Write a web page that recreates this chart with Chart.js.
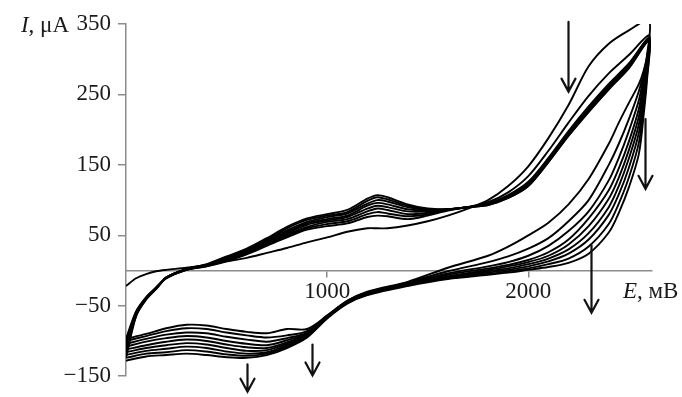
<!DOCTYPE html>
<html>

<head>
    <meta charset="utf-8">
    <title>Cyclic voltammogram</title>
    <script src="https://cdn.jsdelivr.net/npm/chart.js@4.4.1/dist/chart.umd.min.js"></script>
    <style>
        html, body { margin: 0; padding: 0; background: #fff; }
        #wrap { position: relative; width: 682px; height: 397px; }
    </style>
</head>

<body>
    <div id="wrap"><canvas id="cv"></canvas></div>

    <script>
        // potential grids, mV (forward sweep and reverse sweep)
        var upE = [0, 50, 100, 150, 200, 300, 400, 500, 600, 700, 800, 900, 1000, 1100, 1200, 1250, 1300, 1400, 1500, 1600, 1700, 1800, 1900, 2000, 2100, 2200, 2300, 2400, 2500, 2600];
        var downE = [2590, 2575, 2550, 2500, 2450, 2400, 2300, 2200, 2100, 2000, 1900, 1800, 1600, 1400, 1200, 1100, 1000, 900, 800, 700, 600, 500, 400, 300, 200, 100, 0];

        // current, uA, one forward + one reverse branch per cycle
        var cycle1Up = [-22, -11, -5, -1, 1, 4, 8, 13, 18, 25, 32, 40, 47, 55, 60, 60, 60, 64, 70, 78, 88, 100, 120, 148, 188, 235, 290, 322, 341, 355];
        var cycle1Down = [305, 285, 265, 238, 210, 180, 130, 94, 68, 50, 34, 21, 4, -16, -30, -43, -64, -83, -83, -89, -87, -83, -78, -77, -82, -90, -97];
        var cycle2Up = [-97, -58, -38, -24, -11, 1, 6, 13, 23, 35, 47, 58, 63, 67, 76, 78, 77, 73, 78, 85, 90, 97, 111, 134, 170, 210, 248, 280, 306, 334];
        var cycle2Down = [303, 283, 255, 215, 180, 150, 100, 70, 46, 31, 20, 12, -1, -17, -31, -43, -64, -86, -92, -95, -92, -88, -83, -82, -86, -93, -100];
        var cycle3Up = [-100, -59, -38, -24, -11, 1, 6, 14, 24, 36, 49, 60, 66, 70, 80, 83, 81, 77, 80, 86, 90, 95, 107, 126, 160, 198, 233, 265, 294, 331];
        var cycle3Down = [300, 278, 242, 198, 160, 128, 84, 56, 35, 21, 12, 6, -4, -18, -32, -44, -65, -88, -96, -101, -98, -94, -89, -88, -91, -97, -104];
        var cycle4Up = [-104, -60, -39, -25, -11, 1, 7, 15, 25, 38, 51, 62, 69, 73, 84, 88, 86, 80, 82, 86, 90, 95, 106, 124, 158, 196, 230, 262, 292, 330];
        var cycle4Down = [296, 270, 230, 183, 145, 114, 74, 44, 26, 15, 8, 3, -6, -19, -32, -44, -65, -89, -99, -106, -104, -100, -95, -93, -96, -101, -108];
        var cycle5Up = [-108, -61, -39, -25, -10, 2, 7, 16, 27, 40, 53, 65, 71, 76, 88, 92, 90, 84, 84, 87, 90, 94, 105, 123, 157, 195, 229, 261, 291, 329];
        var cycle5Down = [292, 262, 219, 171, 132, 102, 63, 37, 21, 12, 6, 1, -8, -19, -33, -45, -66, -90, -102, -110, -109, -105, -100, -98, -101, -106, -112];
        var cycle6Up = [-112, -62, -40, -25, -10, 2, 8, 17, 28, 41, 55, 67, 73, 78, 92, 96, 94, 87, 85, 87, 90, 94, 104, 122, 156, 194, 228, 260, 290, 328];
        var cycle6Down = [287, 255, 208, 159, 120, 90, 53, 30, 17, 9, 3, -1, -9, -20, -33, -45, -66, -92, -104, -113, -114, -110, -105, -103, -106, -110, -116];
        var cycle7Up = [-116, -63, -40, -26, -10, 2, 8, 18, 29, 43, 57, 69, 76, 81, 95, 100, 98, 90, 86, 87, 90, 94, 104, 121, 155, 193, 227, 259, 289, 327];
        var cycle7Down = [282, 246, 196, 146, 108, 79, 44, 24, 13, 6, 1, -3, -10, -21, -34, -46, -67, -93, -106, -116, -118, -115, -110, -108, -111, -114, -120];
        var cycle8Up = [-120, -64, -41, -26, -10, 2, 8, 19, 30, 44, 60, 72, 78, 83, 99, 104, 101, 92, 87, 87, 90, 93, 103, 120, 154, 192, 226, 258, 288, 326];
        var cycle8Down = [276, 236, 182, 132, 95, 66, 34, 17, 9, 3, -1, -5, -11, -21, -34, -46, -67, -94, -108, -118, -121, -119, -115, -113, -116, -118, -124];
        var cycle9Up = [-124, -65, -41, -26, -10, 2, 9, 20, 31, 46, 62, 74, 80, 86, 102, 107, 104, 94, 88, 87, 90, 93, 103, 120, 154, 191, 225, 257, 287, 326];
        var cycle9Down = [270, 225, 166, 118, 82, 54, 24, 11, 5, 1, -3, -6, -12, -22, -35, -47, -68, -95, -110, -120, -124, -123, -120, -118, -120, -122, -128];

        // axis ticks
        var xTicks = [1000, 2000];
        var yTicks = [-150, -50, 50, 150, 250, 350];

        // arrows: [E, I start, I end] (head at the end)
        var arrows = [[2195, 353, 254], [2578, 215, 116], [2310, 36, -60], [927, -105, -149], [604, -133, -172]];

        var ups = [cycle1Up, cycle2Up, cycle3Up, cycle4Up, cycle5Up, cycle6Up, cycle7Up, cycle8Up, cycle9Up];
        var downs = [cycle1Down, cycle2Down, cycle3Down, cycle4Down, cycle5Down, cycle6Down, cycle7Down, cycle8Down, cycle9Down];

        var font = { family: 'Liberation Serif', size: 23 };
        var axisColor = '#8c8c8c';
        var textColor = '#1a1a1a';

        var datasets = ups.map(function (up, i) {
            var pts = upE.map(function (e, k) { return { x: e, y: up[k] }; });
            downE.forEach(function (e, k) { pts.push({ x: e, y: downs[i][k] }); });
            return {
                data: pts,
                borderColor: '#000',
                borderWidth: 1.9,
                pointRadius: 0,
                tension: 0.3,
                fill: false
            };
        });

        // axis names and arrows
        var extras = {
            id: 'extras',
            afterDraw: function (chart) {
                var ctx = chart.ctx;
                var xs = chart.scales.x, ys = chart.scales.y;
                ctx.save();
                ctx.fillStyle = textColor;
                ctx.textBaseline = 'alphabetic';
                ctx.textAlign = 'left';
                var base = ys.getPixelForValue(350) + 8;
                ctx.font = 'italic 23px "Liberation Serif"';
                var w1 = ctx.measureText('I').width;
                ctx.font = '23px "Liberation Serif"';
                var w2 = ctx.measureText(', μA').width;
                var x0 = 69 - w1 - w2;
                ctx.font = 'italic 23px "Liberation Serif"';
                ctx.fillText('I', x0, base);
                ctx.font = '23px "Liberation Serif"';
                ctx.fillText(', μA', x0 + w1, base);

                var xb = ys.getPixelForValue(0) + 27;
                ctx.font = 'italic 23px "Liberation Serif"';
                ctx.fillText('E', 623, xb);
                var we = ctx.measureText('E').width;
                ctx.font = '23px "Liberation Serif"';
                ctx.fillText(', мВ', 623 + we, xb);

                ctx.strokeStyle = '#111';
                ctx.lineWidth = 2.2;
                ctx.lineCap = 'round';
                ctx.lineJoin = 'miter';
                arrows.forEach(function (a) {
                    var x = Math.round(xs.getPixelForValue(a[0])) + 0.5;
                    var y1 = ys.getPixelForValue(a[1]);
                    var y2 = ys.getPixelForValue(a[2]);
                    ctx.beginPath();
                    ctx.moveTo(x, y1);
                    ctx.lineTo(x, y2);
                    ctx.moveTo(x - 7, y2 - 13);
                    ctx.lineTo(x, y2);
                    ctx.lineTo(x + 7, y2 - 13);
                    ctx.stroke();
                });
                ctx.restore();
            }
        };

        var ctx = document.getElementById('cv').getContext('2d');
        var chart = new Chart(ctx, {
            type: 'scatter',
            data: { datasets: datasets },
            options: {
                responsive: true,
                maintainAspectRatio: false,
                animation: false,
                showLine: true,
                layout: { padding: { top: 24, bottom: 18, left: 0, right: 30 } },
                plugins: { legend: { display: false }, tooltip: { enabled: false } },
                elements: { line: { capBezierPoints: false } },
                scales: {
                    x: {
                        type: 'linear',
                        min: 0,
                        max: 2615,
                        position: { y: 0 },
                        afterBuildTicks: function (s) { s.ticks = xTicks.map(function (v) { return { value: v }; }); },
                        afterFit: function (s) { s.height = 0; },
                        border: { display: true, color: axisColor, width: 1.5 },
                        grid: { drawOnChartArea: false, drawTicks: true, tickLength: 6, color: axisColor, lineWidth: 1.5 },
                        ticks: {
                            font: font, color: textColor, padding: 2, maxRotation: 0,
                            callback: function (v) { return String(v); }
                        }
                    },
                    y: {
                        type: 'linear',
                        min: -150,
                        max: 350,
                        position: 'left',
                        afterBuildTicks: function (s) { s.ticks = yTicks.map(function (v) { return { value: v }; }); },
                        afterFit: function (s) { s.width = 126; },
                        border: { display: true, color: axisColor, width: 1.5 },
                        grid: { drawOnChartArea: false, drawTicks: true, tickLength: 8, color: axisColor, lineWidth: 1.5 },
                        ticks: {
                            font: font, color: textColor, padding: 7,
                            callback: function (v) { return v < 0 ? '\u2212' + Math.abs(v) : String(v); }
                        }
                    }
                }
            },
            plugins: [extras]
        });
    </script>
</body>

</html>
